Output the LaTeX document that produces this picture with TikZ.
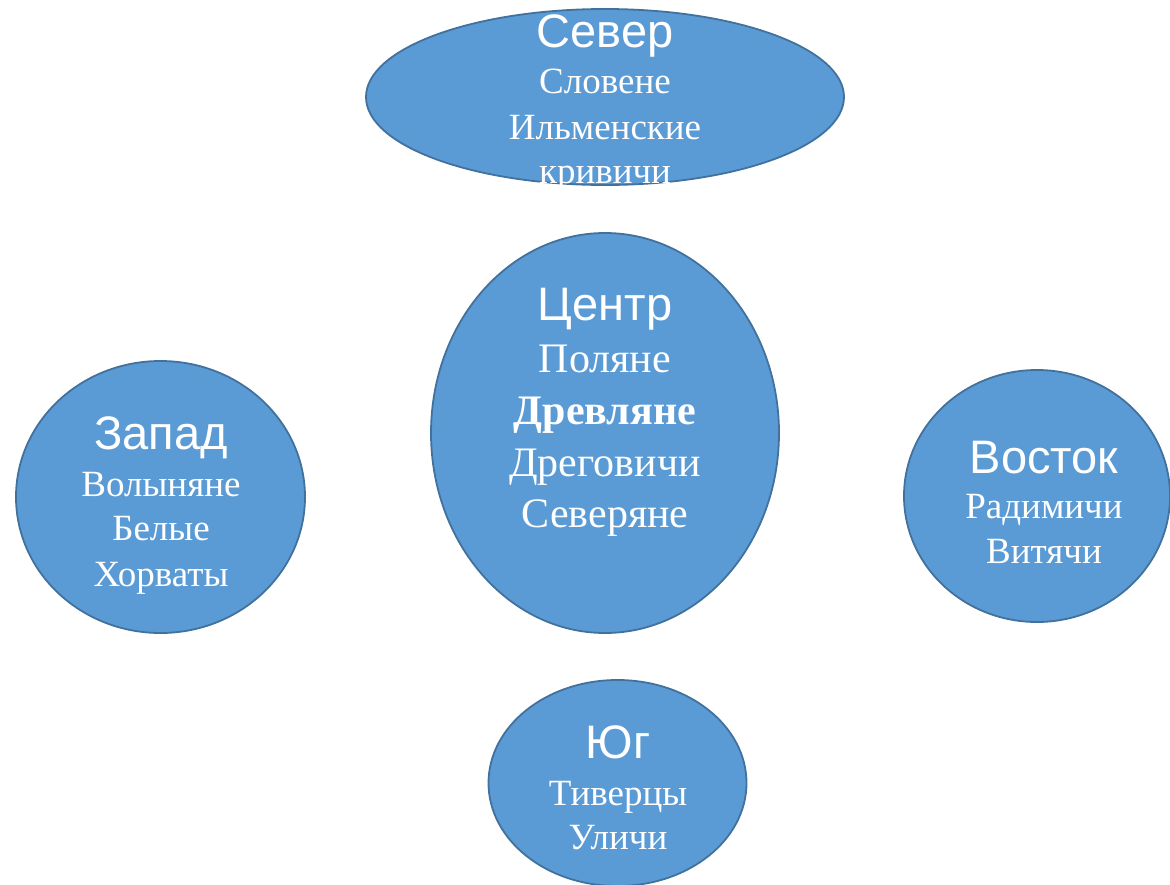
\documentclass[tikz,border=0pt]{standalone}
\usepackage{fontspec}
\setmainfont{Liberation Serif}
\setsansfont{Liberation Sans}
\usetikzlibrary{shapes.geometric}
\definecolor{blobfill}{HTML}{5B9BD5}
\definecolor{blobline}{HTML}{41719C}
\tikzset{
  blob/.style={ellipse, fill=blobfill, draw=blobline, line width=1.8pt, inner sep=0pt},
  title/.style={anchor=base, text=white, inner sep=0pt, font=\sffamily\fontsize{47}{50}\selectfont},
  body/.style={anchor=base, text=white, inner sep=0pt, font=\fontsize{37}{44}\selectfont},
  bigbody/.style={anchor=base, text=white, inner sep=0pt, font=\fontsize{42}{50}\selectfont}
}
\begin{document}
\begin{tikzpicture}[x=1pt,y=-1pt]
\useasboundingbox (0,0) rectangle (1170,884);
% ellipses
\node[blob, minimum width=478, minimum height=176] (north) at (605,97) {};
\node[blob, minimum width=348, minimum height=400] (center) at (605,433) {};
\node[blob, minimum width=289, minimum height=272] (west) at (160.5,497) {};
\node[blob, minimum width=266, minimum height=252] (east) at (1037,496) {};
\node[blob, minimum width=258, minimum height=206] (south) at (617.5,783) {};
% north texts
\node[title] (n0) at (605,47) {Север};
\node[body] (n1) at (605,93) {Словене};
\node[body] (n2) at (605,139) {Ильменские};
\node[body] (n3) at (605,183) {кривичи};
% center texts
\node[title] (c0) at (605,320) {Центр};
\node[bigbody] (c1) at (605,372) {Поляне};
\node[bigbody, font=\bfseries\fontsize{42}{50}\selectfont] (c2) at (605,424) {Древляне};
\node[bigbody] (c3) at (605,476) {Дреговичи};
\node[bigbody] (c4) at (605,527) {Северяне};
% west texts
\node[title] (w0) at (161,449) {Запад};
\node[body] (w1) at (161,496) {Волыняне};
\node[body] (w2) at (161,540) {Белые};
\node[body] (w3) at (161,586) {Хорваты};
% east texts
\node[title] (e0) at (1044,473) {Восток};
\node[body] (e1) at (1044,518) {Радимичи};
\node[body] (e2) at (1044,563) {Витячи};
% south texts
\node[title] (s0) at (618,758) {Юг};
\node[body] (s1) at (618,805) {Тиверцы};
\node[body] (s2) at (618,849) {Уличи};
\end{tikzpicture}
\end{document}
